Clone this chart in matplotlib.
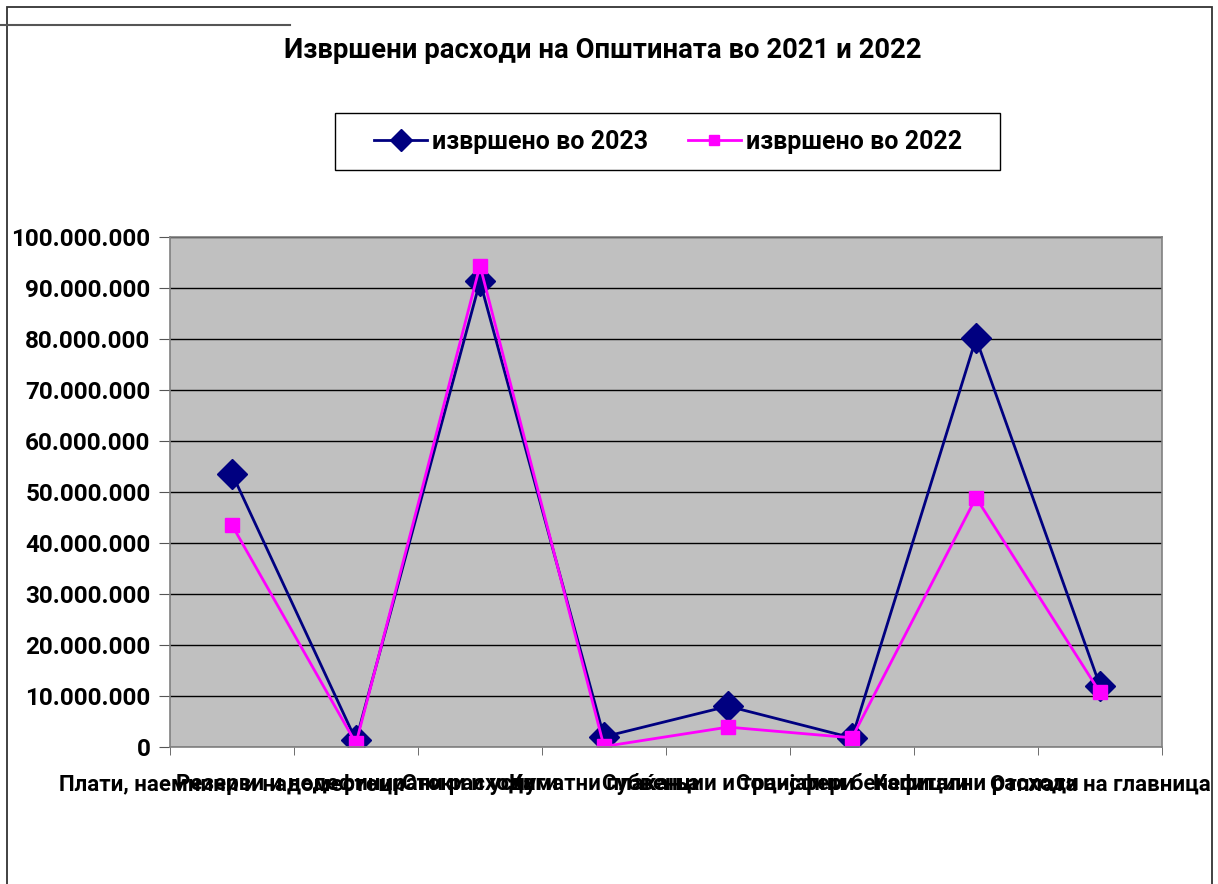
import numpy as np
import matplotlib.pyplot as plt
from matplotlib.patches import Rectangle
from matplotlib.lines import Line2D
from matplotlib.ticker import MultipleLocator, FuncFormatter

plt.rcParams['font.family'] = ['Roboto', 'DejaVu Sans']
plt.rcParams['font.weight'] = 'bold'

categories = ['Плати, наемнини и надоместоци', 'Резерви и недефинирани расходи',
              'Стоки и услуги', 'Каматни плаќања', 'Субвенции и трансфери',
              'Социјални бенефиции', 'Капитални расходи', 'Отплата на главница']
spent_2023 = [53.6e6, 1.3e6, 91.3e6, 2.0e6, 8.0e6, 1.8e6, 80.1e6, 12.0e6]
spent_2022 = [43.5e6, 0.7e6, 94.4e6, 0.1e6, 3.9e6, 1.8e6, 48.9e6, 10.7e6]

W, H = 1218, 884
fig = plt.figure(figsize=(W / 100, H / 100), dpi=100)

# chart border
fig.patches.append(Rectangle((7/W, -0.01), 1205/W, 1 - 7/H + 0.01,
                             transform=fig.transFigure, fill=False,
                             edgecolor='#333333', linewidth=1.3))
fig.lines.append(Line2D([0, 290/W], [1 - 25/H, 1 - 25/H],
                        transform=fig.transFigure, color='#555555', lw=1.5))

ax = fig.add_axes([170/W, 137/H, 992/W, 510/H])
ax.set_facecolor('#c0c0c0')
x = np.arange(len(categories))

ax.plot(x, spent_2023, color='#000080', marker='D', markersize=15,
        linewidth=2, label='извршено во 2023')
ax.plot(x, spent_2022, color='#ff00ff', marker='s', markersize=9.5,
        linewidth=2, label='извршено во 2022')

ax.set_xlim(-0.5, 7.5)
ax.set_ylim(0, 100e6)
ax.yaxis.set_major_locator(MultipleLocator(10e6))
ax.yaxis.set_major_formatter(FuncFormatter(lambda v, p: '{:,.0f}'.format(v).replace(',', '.')))
ax.grid(axis='y', color='black', linewidth=1)
ax.set_axisbelow(True)

ax.set_xticks(x)
ax.set_xticklabels(categories, fontsize=16, fontweight='bold')
ax.set_xticks(np.arange(-0.5, 8, 1), minor=True)
ax.tick_params(axis='x', which='major', length=0, pad=19)
ax.tick_params(axis='x', which='minor', length=6, color='#555555')
ax.tick_params(axis='y', length=8, color='#555555', labelsize=17.5, pad=6)
for lab in ax.get_yticklabels():
    lab.set_fontweight('bold')
for s in ax.spines.values():
    s.set_color('#808080')
    s.set_linewidth(1.2)

fig.text(603/W, 1 - 50/H, 'Извршени расходи на Општината во 2021 и 2022',
         ha='center', va='center', fontsize=19.8, fontweight='bold')

# legend box drawn separately so the padding can match the reference
fig.patches.append(Rectangle((335/W, 1 - 170/H), 665/W, 57/H,
                             transform=fig.transFigure, fill=True,
                             facecolor='white', edgecolor='black', linewidth=1))
leg = fig.legend(loc='center', bbox_to_anchor=(668/W, 1 - 142/H),
                 ncol=2, frameon=False, handlelength=2.1, columnspacing=1.6,
                 handletextpad=0.2, borderpad=0.2, markerscale=0.75,
                 prop={'family': ['Roboto', 'DejaVu Sans'],
                       'weight': 'bold', 'size': 18})

fig.savefig('out.png', dpi=100)
